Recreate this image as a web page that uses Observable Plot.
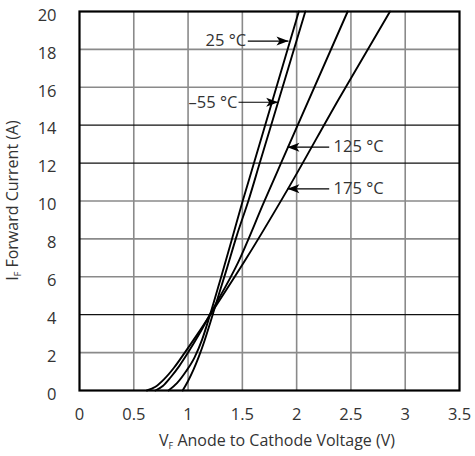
<!DOCTYPE html>
<html>
<head>
<meta charset="utf-8">
<script src="https://cdn.jsdelivr.net/npm/d3@7"></script>
<script src="https://cdn.jsdelivr.net/npm/@observablehq/plot@0.6"></script>
<style>
  body { margin: 0; background: #fff; }
  #chart svg { display: block; }
</style>
</head>
<body>
<div id="chart"></div>
<script>
// Axis ticks
const xTicks = [0, 0.5, 1, 1.5, 2, 2.5, 3, 3.5];
const yTicks = [0, 2, 4, 6, 8, 10, 12, 14, 16, 18, 20];
const darkRows = [4, 12, 14];

// Forward characteristic per junction temperature: VF (V) vs IF (A)
const seriesNames = ["175 °C", "125 °C", "25 °C", "–55 °C"];
const vf175 = [0.62, 0.70, 0.78, 0.87, 0.97, 1.09, 1.21, 1.54, 1.92, 2.39, 2.86];
const if175 = [0, 0.2, 0.6, 1.2, 2.0, 3.0, 4.05, 7.0, 10.64, 15.4, 20];
const vf125 = [0.70, 0.77, 0.84, 0.92, 1.00, 1.10, 1.21, 1.46, 1.70, 1.86, 2.47];
const if125 = [0, 0.25, 0.7, 1.3, 2.0, 2.95, 4.1, 6.75, 9.95, 12.05, 20];
const vf25 = [0.82, 0.90, 0.98, 1.06, 1.13, 1.20, 1.30, 1.40, 1.503, 1.607, 1.71, 2.02];
const if25 = [0, 0.4, 1.0, 1.75, 2.7, 3.95, 5.9, 7.9, 10, 12, 14, 20];
const vfm55 = [0.95, 1.00, 1.05, 1.10, 1.15, 1.20, 1.25, 1.35, 1.45, 1.555, 1.66, 1.765, 2.08];
const ifm55 = [0, 0.5, 1.1, 1.8, 2.6, 3.5, 4.45, 6.3, 8.2, 10, 12, 14, 20];

const seriesV = [vf175, vf125, vf25, vfm55];
const seriesI = [if175, if125, if25, ifm55];
const rows = seriesNames.flatMap((name, k) =>
  seriesV[k].map((v, j) => ({series: name, v, i: seriesI[k][j]})));

// Callouts: label, current at which the arrow sits, arrow tip / tail and text anchor voltage
const noteLabels = ["25 °C", "–55 °C", "125 °C", "175 °C"];
const noteCurrent = [18.44, 15.21, 12.84, 10.64];
const noteTipV = [1.925, 1.83, 1.915, 1.915];
const noteTailV = [1.55, 1.465, 2.30, 2.30];
const noteTextV = [1.535, 1.455, 2.34, 2.34];
const noteAnchor = ["end", "end", "start", "start"];
const noteDir = [0, 0, 180, 180];
const notes = noteLabels.map((label, k) => ({
  label, i: noteCurrent[k], tip: noteTipV[k], tail: noteTailV[k],
  tv: noteTextV[k], anchor: noteAnchor[k], dir: noteDir[k]
}));

// Notched arrowhead whose tip sits on the anchor point, pointing along +x
const arrowHead = {
  draw(context) {
    context.moveTo(0, 0);
    context.lineTo(-12, -4.5);
    context.lineTo(-9, 0);
    context.lineTo(-12, 4.5);
    context.closePath();
  }
};

const font = "'Open Sans', 'DejaVu Sans', sans-serif";

const chart = Plot.plot({
  width: 475,
  height: 456,
  marginLeft: 79,
  marginRight: 16,
  marginTop: 11,
  marginBottom: 66,
  style: {fontFamily: font, fontSize: "16.5px", color: "#333", background: "#fff"},
  x: {domain: [0, 3.5]},
  y: {domain: [0, 20]},
  marks: [
    Plot.ruleX(xTicks.filter(d => d > 0 && d < 3.5), {stroke: "#8a8a8a", strokeWidth: 1.6}),
    Plot.ruleY(yTicks.filter(d => d > 0 && d < 20 && !darkRows.includes(d)), {stroke: "#8a8a8a", strokeWidth: 1.6}),
    Plot.ruleY(darkRows, {stroke: "#111", strokeWidth: 1.3}),
    Plot.axisX({ticks: xTicks, tickSize: 0, tickPadding: 18, tickFormat: d => String(d), label: null}),
    Plot.axisY({ticks: yTicks, tickSize: 0, tickPadding: 23, dy: 4, label: null}),
    Plot.line(rows, {x: "v", y: "i", z: "series", curve: "monotone-x", stroke: "#000", strokeWidth: 1.9}),
    Plot.link(notes, {x1: "tail", y1: "i", x2: "tip", y2: "i", stroke: "#000", strokeWidth: 1.2}),
    Plot.dot(notes, {x: "tip", y: "i", symbol: arrowHead, rotate: "dir", fill: "#000", stroke: "none", r: 5}),
    Plot.text(notes.filter(d => d.anchor === "end"), {x: "tv", y: "i", text: "label", textAnchor: "end", fontSize: 16.5, fill: "#333"}),
    Plot.text(notes.filter(d => d.anchor === "start"), {x: "tv", y: "i", text: "label", textAnchor: "start", fontSize: 16.5, fill: "#333"}),
    Plot.frame({stroke: "#000", strokeWidth: 2.2})
  ]
});

document.getElementById("chart").appendChild(chart);

// Axis titles with subscripts
const svg = d3.select(chart);
const xr = chart.scale("x").range;
const yr = chart.scale("y").range;

const xt = svg.append("text")
  .attr("x", (xr[0] + xr[1]) / 2 + 8)
  .attr("y", 446)
  .attr("text-anchor", "middle")
  .attr("font-family", font)
  .attr("font-size", 16)
  .attr("fill", "#333");
xt.append("tspan").text("V");
xt.append("tspan").attr("font-size", 9).attr("dy", 3).text("F");
xt.append("tspan").attr("dy", -3).text(" Anode to Cathode Voltage (V)");

const yt = svg.append("text")
  .attr("transform", `translate(18,${(yr[0] + yr[1]) / 2}) rotate(-90)`)
  .attr("text-anchor", "middle")
  .attr("font-family", font)
  .attr("font-size", 16)
  .attr("fill", "#333");
yt.append("tspan").text("I");
yt.append("tspan").attr("font-size", 9).attr("dy", 3).text("F");
yt.append("tspan").attr("dy", -3).text(" Forward Current (A)");
</script>
</body>
</html>
